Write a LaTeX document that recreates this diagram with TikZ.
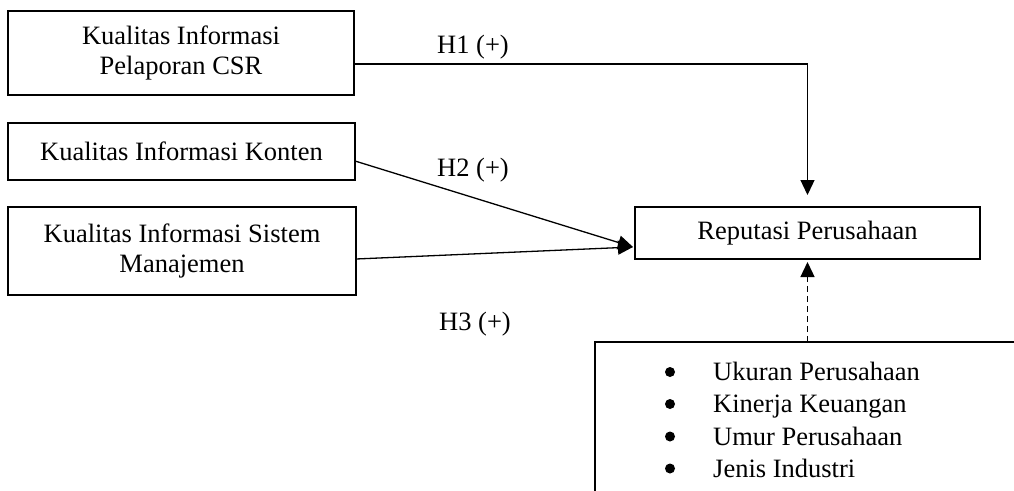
\documentclass[tikz,border=0pt]{standalone}
\usepackage{fontspec}
\setmainfont{Liberation Serif}
\usetikzlibrary{arrows.meta}
\begin{document}
\begin{tikzpicture}[x=1pt,y=-1pt,
  box/.style={draw, line width=2.8pt, outer sep=0pt, inner sep=0pt, align=center, font=\fontsize{26.5}{30}\selectfont},
  lbl/.style={font=\fontsize{26.5}{30}\selectfont, inner sep=0pt},
  dot/.style={circle, fill, inner sep=0pt, minimum size=10pt},
  conn/.style={line width=1.3pt, -{Triangle[length=15pt,width=14pt]}},
]
\clip (0,0) rectangle (1014,490);
\fill[white] (0,0) rectangle (1014,490);
\node[box, minimum width=346pt, minimum height=84pt] (b1) at (181,53) {Kualitas Informasi\\Pelaporan CSR};
\node[box, minimum width=347pt, minimum height=57pt] (b2) at (181.5,151.5) {Kualitas Informasi Konten};
\node[box, minimum width=348pt, minimum height=88pt] (b3) at (182,251) {Kualitas Informasi Sistem\\Manajemen};
\node[box, minimum width=345pt, minimum height=52pt] (rep) at (807.5,233) {Reputasi Perusahaan};
\node[box, minimum width=450pt, minimum height=200pt, anchor=north west] (ctrl) at (595,342) {};
\node[lbl] (h1) at (473,47) {H1 (+)};
\node[lbl] (h2) at (473,170) {H2 (+)};
\node[lbl] (h3) at (475,324) {H3 (+)};
\node[dot] (d1) at (670,372) {};
\node[dot] (d2) at (670,404) {};
\node[dot] (d3) at (670,436.5) {};
\node[dot] (d4) at (670,468.5) {};
\node[lbl, anchor=base west] (t1) at (713,380) {Ukuran Perusahaan};
\node[lbl, anchor=base west] (t2) at (713,412.5) {Kinerja Keuangan};
\node[lbl, anchor=base west] (t3) at (713,445) {Umur Perusahaan};
\node[lbl, anchor=base west] (t4) at (713,477) {Jenis Industri};
\draw[conn] ([yshift=-11pt]b1.east) -| ([yshift=12pt]rep.north);
\draw[conn] ([yshift=-9.5pt]b2.east) -- ([yshift=-14pt,xshift=-2pt]rep.west);
\draw[conn] ([yshift=-8pt]b3.east) -- ([yshift=-14pt,xshift=-2pt]rep.west);
\draw[conn, dash pattern=on 6pt off 4pt] (rep.south |- ctrl.north) -- ([yshift=-3pt]rep.south);
\end{tikzpicture}
\end{document}
